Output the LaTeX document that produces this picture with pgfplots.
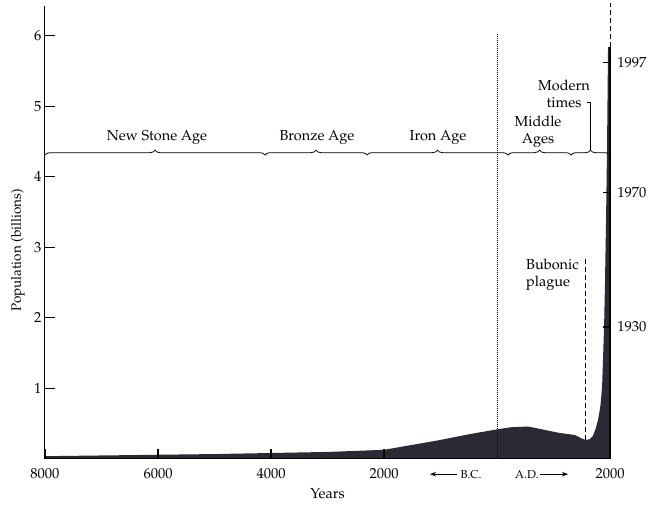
\documentclass[border=0pt]{standalone}
\usepackage[T1]{fontenc}
\usepackage{mathpazo}
\usepackage{pgfplots}
\pgfplotsset{compat=1.18}
\usetikzlibrary{decorations.pathreplacing,arrows.meta}
\definecolor{popfill}{RGB}{42,42,52}
\newcommand{\lbl}{\fontsize{14.5}{17}\selectfont}
\begin{document}
\begin{tikzpicture}
\path[use as bounding box] (-45pt,-46pt) rectangle (603pt,459pt);
\begin{axis}[
  at={(0pt,0pt)}, anchor=south west,
  scale only axis, width=565pt, height=453pt,
  xmin=-8000, xmax=2000, ymin=0, ymax=6.42,
  axis x line*=bottom, axis y line*=left,
  axis line style={line width=1pt},
  axis on top, clip=false,
  tick align=inside, major tick length=10pt,
  tick style={line width=0.9pt, black},
  xtick={-8000,-6000,-4000,-2000,2000},
  xticklabels={8000,6000,4000,2000,2000},
  ytick={1,2,3,4,5,6},
  tick label style={font=\lbl},
  xticklabel style={yshift=-6pt},
  xlabel={Years}, ylabel={Population (billions)},
  xlabel style={font=\lbl, at={(axis description cs:0.5,-0.076)}, anchor=center},
  ylabel style={font=\fontsize{13.5}{15}\selectfont, at={(axis description cs:-0.048,0.46)}, anchor=center},
]
% world population, billions (years: negative = B.C.)
\addplot[fill=popfill, draw=none] coordinates {
  (-8000,0.04) (-7000,0.05) (-6000,0.06) (-5000,0.07) (-4000,0.085)
  (-3000,0.10) (-2000,0.13) (-1500,0.20) (-1000,0.27) (-500,0.35)
  (0,0.42) (250,0.45) (550,0.46) (800,0.42) (1100,0.37) (1380,0.34)
  (1500,0.29) (1570,0.27) (1640,0.28) (1700,0.33) (1750,0.44)
  (1790,0.56) (1830,0.75) (1860,1.02) (1895,1.87) (1910,2.44)
  (1930,3.39) (1947,4.38) (1965,5.84) (2000,5.84)
} \closedcycle;
\addplot[line width=2pt, black] coordinates {(2000,0) (2000,5.84)};

% inner tick marks on the years axis
\draw[line width=1.5pt, black] (axis cs:-6000,0) -- ++(0pt,10pt);
\draw[line width=1.5pt, black] (axis cs:-4000,0) -- ++(0pt,10pt);
\draw[line width=1.5pt, black] (axis cs:-2000,0) -- ++(0pt,10pt);

% era braces
\begin{scope}[line width=0.8pt, decoration={brace, amplitude=5pt}]
\draw[decorate] (axis cs:-8000,4.306) -- (axis cs:-4106,4.306);
\draw[decorate] (axis cs:-4106,4.306) -- (axis cs:-2301,4.306);
\draw[decorate] (axis cs:-2301,4.306) -- (axis cs:195,4.306);
\draw[decorate] (axis cs:195,4.306) -- (axis cs:1310,4.306);
\draw[decorate] (axis cs:1310,4.306) -- (axis cs:2000,4.306);
\end{scope}
\draw[line width=0.8pt] (axis cs:1655,4.38) -- (axis cs:1655,5.06) -- (axis cs:1593,5.06);

\node[font=\lbl] at (axis cs:-6018,4.55) {New Stone Age};
\node[font=\lbl] at (axis cs:-3186,4.55) {Bronze Age};
\node[font=\lbl] at (axis cs:-1044,4.55) {Iron Age};
\node[font=\lbl, align=center] at (axis cs:726,4.64) {Middle\\Ages};
\node[font=\lbl, align=center] at (axis cs:1186,5.17) {Modern\\times};
\node[font=\lbl, align=left, anchor=west, inner sep=0pt] at (axis cs:513,2.61) {Bubonic\\plague};

% B.C. / A.D. divider and plague marker
\draw[line width=0.9pt, dash pattern=on 1pt off 1pt] (axis cs:0,0) -- (axis cs:0,6.03);
\draw[line width=1pt, dash pattern=on 5pt off 3pt] (axis cs:1560,0.27) -- (axis cs:1560,2.85);
\draw[line width=1pt, dash pattern=on 5pt off 3pt] (axis cs:2010,5.84) -- (axis cs:2010,6.46);

% dates along the spike
\draw[line width=1.2pt] (axis cs:1876,5.62) -- (axis cs:2000,5.62);
\draw[line width=1.2pt] (axis cs:1876,3.78) -- (axis cs:2000,3.78);
\draw[line width=1.2pt] (axis cs:1876,1.87) -- (axis cs:2000,1.87);
\node[font=\lbl, anchor=west] at (axis cs:2070,5.62) {1997};
\node[font=\lbl, anchor=west] at (axis cs:2070,3.78) {1970};
\node[font=\lbl, anchor=west] at (axis cs:2070,1.87) {1930};

% era arrows
\draw[line width=0.9pt, {Stealth[length=6pt,width=4.5pt]}-] (axis cs:-1186,-0.215) -- (axis cs:-708,-0.215);
\node[font=\fontsize{11.5}{13}\selectfont] at (axis cs:-460,-0.215) {B.C.};
\node[font=\fontsize{11.5}{13}\selectfont] at (axis cs:531,-0.215) {A.D.};
\draw[line width=0.9pt, -{Stealth[length=6pt,width=4.5pt]}] (axis cs:761,-0.215) -- (axis cs:1257,-0.215);
\end{axis}
\end{tikzpicture}
\end{document}
